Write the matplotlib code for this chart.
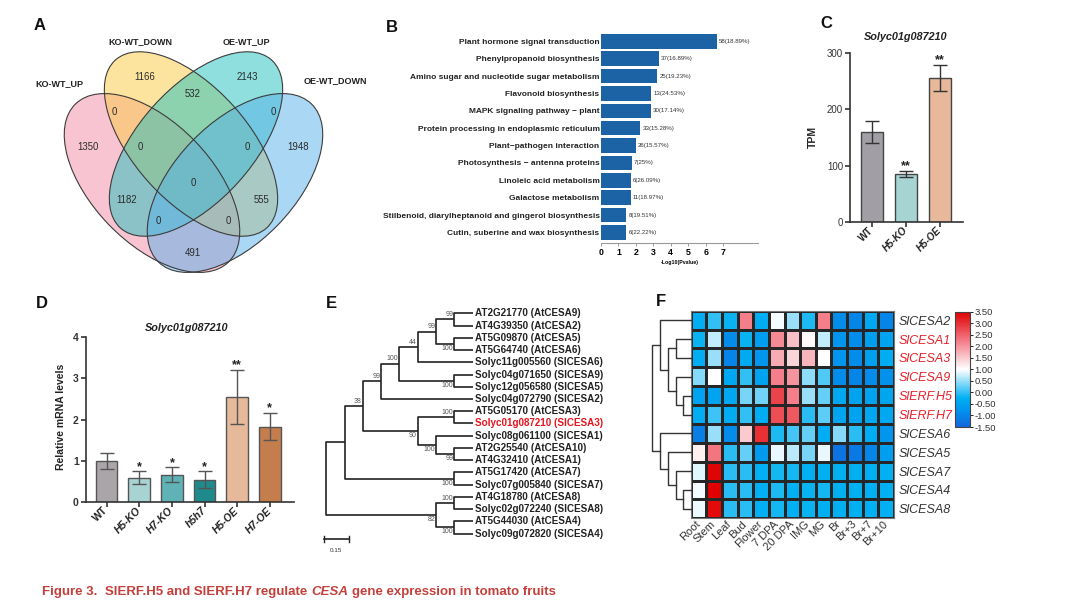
import numpy as np
import matplotlib
matplotlib.use("Agg")
import matplotlib.pyplot as plt
import matplotlib.transforms as mtransforms
from matplotlib.patches import Ellipse
from matplotlib.colors import LinearSegmentedColormap

plt.rcParams["font.family"] = ["Liberation Sans", "DejaVu Sans"]

W, H = 1080, 606

# A - venn
VENN_SETS = ["KO-WT_UP", "KO-WT_DOWN", "OE-WT_UP", "OE-WT_DOWN"]
VENN_REGIONS = ["1000", "0100", "0010", "0001", "1100", "0110", "0011",
                "1010", "0101", "1001", "1110", "0111", "1011", "1101", "1111"]
VENN_COUNTS = [1350, 1166, 2143, 1948, 0, 532, 0, 1182, 555, 491, 0, 0, 0, 0, 0]

# B - KEGG
KEGG_TERMS = [
    "Plant hormone signal transduction",
    "Phenylpropanoid biosynthesis",
    "Amino sugar and nucleotide sugar metabolism",
    "Flavonoid biosynthesis",
    "MAPK signaling pathway \u2212 plant",
    "Protein processing in endoplasmic reticulum",
    "Plant\u2212pathogen interaction",
    "Photosynthesis \u2212 antenna proteins",
    "Linoleic acid metabolism",
    "Galactose metabolism",
    "Stilbenoid, diarylheptanoid and gingerol biosynthesis",
    "Cutin, suberine and wax biosynthesis",
]
KEGG_LOG_P = [6.63, 3.31, 3.22, 2.87, 2.87, 2.26, 1.99, 1.78, 1.70, 1.70, 1.46, 1.46]
KEGG_HITS = ["58(18.89%)", "37(16.89%)", "25(19.23%)", "13(24.53%)", "30(17.14%)",
             "33(15.28%)", "26(15.57%)", "7(25%)", "6(26.09%)", "11(18.97%)",
             "8(19.51%)", "6(22.22%)"]

# C - TPM
TPM_GROUPS = ["WT", "H5-KO", "H5-OE"]
TPM_MEAN = [160, 85, 256]
TPM_ERR = [19, 5, 23]
TPM_SIG = ["", "**", "**"]

# D - qPCR
QPCR_GROUPS = ["WT", "H5-KO", "H7-KO", "h5h7", "H5-OE", "H7-OE"]
QPCR_MEAN = [1.0, 0.59, 0.66, 0.54, 2.55, 1.83]
QPCR_ERR = [0.20, 0.16, 0.18, 0.20, 0.65, 0.33]
QPCR_SIG = ["", "*", "*", "*", "**", "*"]

# E - phylogeny
TREE_LEAVES = [
    "AT2G21770 (AtCESA9)", "AT4G39350 (AtCESA2)", "AT5G09870 (AtCESA5)",
    "AT5G64740 (AtCESA6)", "Solyc11g005560 (SlCESA6)", "Solyc04g071650 (SlCESA9)",
    "Solyc12g056580 (SlCESA5)", "Solyc04g072790 (SlCESA2)", "AT5G05170 (AtCESA3)",
    "Solyc01g087210 (SlCESA3)", "Solyc08g061100 (SlCESA1)", "AT2G25540 (AtCESA10)",
    "AT4G32410 (AtCESA1)", "AT5G17420 (AtCESA7)", "Solyc07g005840 (SlCESA7)",
    "AT4G18780 (AtCESA8)", "Solyc02g072240 (SlCESA8)", "AT5G44030 (AtCESA4)",
    "Solyc09g072820 (SlCESA4)",
]
TREE_HIGHLIGHT = "Solyc01g087210 (SlCESA3)"
# (left, right, bootstrap, label side); ints are leaf indices
TREE_TOPOLOGY = (
    (
        (
            (
                (
                    (((0, 1, 99, "up"), (2, 3, 100, "down"), 99, "up"), 4, 44, "up"),
                    (5, 6, 100, "down"), 100, "up"),
                7, 99, "up"),
            ((8, 9, 100, "up"), (10, (11, 12, 99, "down"), 100, "down"), 90, "down"),
            38, "up"),
        (13, 14, 100, "down"), None, None),
    ((15, 16, 100, "up"), (17, 18, 100, "down"), 82, "down"),
    None, None)

# F - heatmap
TISSUES = ["Root", "Stem", "Leaf", "Bud", "Flower", "7 DPA", "20 DPA", "IMG", "MG",
           "Br", "Br+3", "Br+7", "Br+10"]
HEAT_GENES = ["SlCESA2", "SlCESA1", "SlCESA3", "SlCESA9", "SlERF.H5", "SlERF.H7",
              "SlCESA6", "SlCESA5", "SlCESA7", "SlCESA4", "SlCESA8"]
HEAT_RED_GENES = ["SlCESA1", "SlCESA3", "SlCESA9", "SlERF.H5", "SlERF.H7"]
HEAT_VALUES = [
    [-0.30, 0.00, -0.20, 2.20, -0.30, 0.95, 0.50, -0.10, 2.20, -0.90, -1.00, -0.40, -1.00],
    [-0.20, 0.70, -0.90, -0.20, -0.60, 2.10, 1.60, 1.05, 0.70, -0.75, -0.90, -0.60, -0.50],
    [-0.30, 0.50, -1.00, -0.35, -0.75, 1.80, 1.40, 1.70, 1.00, -0.75, -0.90, -0.55, -0.30],
    [0.40, 1.00, -0.40, 0.00, -0.50, 2.20, 2.00, 0.45, 0.15, -0.90, -1.00, -0.90, -0.80],
    [-0.50, -0.50, -0.40, 0.35, 0.30, 2.80, 2.20, 0.50, 0.25, -0.40, -0.50, -0.50, -0.45],
    [-0.30, 0.05, -0.30, 0.00, -0.30, 2.70, 2.60, -0.05, 0.20, -0.45, -0.50, -0.40, -0.40],
    [-1.10, 0.50, -0.90, 1.50, 3.00, -0.10, 0.10, 0.25, -0.30, 0.40, -0.05, -0.30, -0.75],
    [1.15, 2.30, -0.05, 0.25, -0.65, 0.90, 0.65, 0.35, 0.90, -1.30, -1.20, -1.00, -0.60],
    [0.85, 3.45, -0.05, -0.05, -0.25, -0.15, -0.15, -0.25, -0.25, -0.25, -0.25, -0.25, -0.25],
    [0.95, 3.50, -0.05, -0.05, -0.25, -0.10, -0.25, -0.20, -0.15, -0.25, -0.25, -0.25, -0.25],
    [0.92, 3.40, -0.05, -0.05, -0.25, -0.15, -0.25, -0.20, -0.25, -0.25, -0.25, -0.25, -0.25],
]
# (left, right, merge height); ints are heatmap rows
HEAT_DENDRO = ((0, ((1, 2, 1.5), (3, (4, 5, 0.8), 1.5), 2.3), 3.1),
               (6, (7, (8, (9, 10, 0.8), 1.5), 2.3), 3.1), 3.9)


def px_rect(x0, y0, x1, y1):
    return [x0 / W, 1 - y1 / H, (x1 - x0) / W, (y1 - y0) / H]


def ftext(fig, x, y, s, **kw):
    return fig.text(x / W, 1 - y / H, s, **kw)


def panel_venn(fig):
    ax = fig.add_axes(px_rect(0, 0, 380, 290))
    ax.set_xlim(0, 380)
    ax.set_ylim(290, 0)
    ax.axis("off")

    shapes = [(152, 183, 220, 120, 46), (191, 144, 226, 114, 48),
              (196, 144, 226, 114, 132), (235, 183, 220, 120, 134)]
    colors = ["#f38ba7", "#fbcb41", "#1fc1bf", "#57b1e9"]
    for (cx, cy, w, h, ang), col in zip(shapes, colors):
        ax.add_patch(Ellipse((cx, cy), w, h, angle=ang, facecolor=col, alpha=0.5,
                             edgecolor="none"))
    for cx, cy, w, h, ang in shapes:
        ax.add_patch(Ellipse((cx, cy), w, h, angle=ang, fill=False,
                             edgecolor="#3c3c3c", lw=0.8))

    spots = {"1000": (88, 147), "0100": (145, 77), "0010": (247, 77), "0001": (298, 147),
             "1100": (114, 112), "0110": (193, 94), "0011": (273, 112),
             "1010": (127, 200), "0101": (262, 200), "1001": (193, 253),
             "1110": (140, 147), "0111": (247, 147), "1011": (158, 221),
             "1101": (228, 221), "1111": (193, 183)}
    for reg, n in zip(VENN_REGIONS, VENN_COUNTS):
        x, y = spots[reg]
        ax.text(x, y, str(n), ha="center", va="center", fontsize=6.9, color="#2a2a2a")

    label_pos = [(59, 84), (140, 42), (246, 42), (335, 81)]
    for name, (x, y) in zip(VENN_SETS, label_pos):
        ax.text(x, y, name, ha="center", va="center", fontsize=6.5,
                fontweight="bold", color="#222")


def panel_kegg(fig):
    ax = fig.add_axes(px_rect(601, 30.6, 758, 243))
    y = np.arange(len(KEGG_TERMS))
    ax.barh(y, KEGG_LOG_P, height=0.84, color="#1b63a5")
    ax.set_ylim(len(KEGG_TERMS) - 0.39, -0.62)
    ax.set_xlim(0, 9)
    ax.set_yticks(y)
    ax.set_yticklabels(KEGG_TERMS, fontsize=6, fontweight="bold", color="#222")
    ax.tick_params(axis="y", length=0, pad=1)
    ax.set_xticks(range(8))
    ax.set_xticklabels([str(i) for i in range(8)], fontsize=6.3, fontweight="bold")
    ax.tick_params(axis="x", length=2, width=0.6, pad=1.5, color="#888")
    for s in ["top", "right", "left"]:
        ax.spines[s].set_visible(False)
    ax.spines["bottom"].set_color("#999")
    ax.spines["bottom"].set_linewidth(0.8)
    for i, (v, s) in enumerate(zip(KEGG_LOG_P, KEGG_HITS)):
        ax.text(v + 0.12, i, s, fontsize=4.4, va="center", color="#333")
    ax.set_xlabel("-Log10(Pvalue)", fontsize=3.8, fontweight="bold", labelpad=2)


def bar_panel(fig, box, xlim, ylim, yticks, groups, means, errs, sig, colors,
              edge, ecolor, star_pad, tick_fs, bold_ticks):
    ax = fig.add_axes(px_rect(*box))
    x = np.arange(len(groups))
    ax.bar(x, means, width=0.66, color=colors, edgecolor=edge, linewidth=1.0, zorder=2)
    ax.errorbar(x, means, yerr=errs, fmt="none", ecolor=ecolor, elinewidth=1.0,
                capsize=5.2, capthick=1.0, zorder=3)
    for i, (m, e, s) in enumerate(zip(means, errs, sig)):
        if s:
            ax.annotate(s, (i, m + e), xytext=(0, star_pad), textcoords="offset points",
                        ha="center", va="baseline", fontsize=9, fontweight="bold",
                        color="#222", annotation_clip=False)
    ax.set_xlim(*xlim)
    ax.set_ylim(*ylim)
    ax.set_yticks(yticks)
    ax.set_yticklabels([str(t) for t in yticks], fontsize=tick_fs,
                       fontweight="bold" if bold_ticks else "normal", color="#333")
    ax.set_xticks(x)
    ax.set_xticklabels(groups, rotation=45, ha="right", va="center",
                       rotation_mode="anchor", fontsize=tick_fs, fontweight="bold",
                       color="#222")
    shift = mtransforms.ScaledTranslation(3 / 100, -3 / 100, fig.dpi_scale_trans)
    for lab in ax.get_xticklabels():
        if lab.get_text() != "WT":
            lab.set_fontstyle("italic")
        lab.set_transform(lab.get_transform() + shift)
    for s in ["top", "right"]:
        ax.spines[s].set_visible(False)
    for s in ["left", "bottom"]:
        ax.spines[s].set_linewidth(1.2)
        ax.spines[s].set_color("#333")
    ax.tick_params(length=3.5, width=1.2, color="#333", pad=1.5)
    return ax


def layout_tree(ax, node):
    if isinstance(node, int):
        return float(node), 0
    left, right, support, side = node
    yl, hl = layout_tree(ax, left)
    yr, hr = layout_tree(ax, right)
    h = max(hl, hr) + 1
    ax.plot([-hl, -h, -h, -hr], [yl, yl, yr, yr], color="#222", lw=1.2,
            solid_capstyle="butt", clip_on=False)
    y = (yl + yr) / 2
    if support is not None:
        if side == "up":
            ax.text(-h - 0.05, y - 0.12, str(support), ha="right", va="bottom",
                    fontsize=5, color="#555")
        else:
            ax.text(-h - 0.05, y + 0.08, str(support), ha="right", va="top",
                    fontsize=5, color="#555")
    return y, h


def panel_tree(fig):
    ax = fig.add_axes(px_rect(320, 305, 480, 545))
    ax.set_xlim(-8.34, 0.40)
    ax.set_ylim(18.93, -0.68)
    ax.axis("off")
    layout_tree(ax, TREE_TOPOLOGY)
    for i, name in enumerate(TREE_LEAVES):
        col = "#e8141e" if name == TREE_HIGHLIGHT else "#222"
        ax.text(0.15, i, name, va="center", ha="left", fontsize=7.1,
                fontweight="bold", color=col, clip_on=False)
    ax.plot([-8.13, -6.76], [18.44, 18.44], color="#222", lw=1.2, clip_on=False)
    for xb in [-8.13, -6.76]:
        ax.plot([xb, xb], [18.2, 18.68], color="#222", lw=1.0, clip_on=False)
    ax.text(-7.45, 19.15, "0.15", ha="center", va="top", fontsize=4.5, color="#333",
            clip_on=False)


def draw_dendro(ax, node):
    if isinstance(node, int):
        return node + 0.5, 0.0
    left, right, h = node
    yl, hl = draw_dendro(ax, left)
    yr, hr = draw_dendro(ax, right)
    ax.plot([hl, h, h, hr], [yl, yl, yr, yr], color="#333", lw=1.0, clip_on=False)
    return (yl + yr) / 2, h


def panel_heatmap(fig):
    cmap = LinearSegmentedColormap.from_list("cesa", [
        (0.0, "#1266dc"), (0.15, "#0096ee"), (0.25, "#00b0f2"),
        (0.5, "#ffffff"), (0.75, "#f47a86"), (1.0, "#e00000")])
    vals = np.array(HEAT_VALUES)
    ax = fig.add_axes(px_rect(690.7, 310.7, 894, 518.3))
    mesh = ax.pcolormesh(np.arange(len(TISSUES) + 1), np.arange(len(HEAT_GENES) + 1),
                         vals, cmap=cmap, vmin=-1.5, vmax=3.5,
                         edgecolors="#262626", linewidth=0.8)
    ax.set_xlim(0, len(TISSUES))
    ax.set_ylim(len(HEAT_GENES), 0)
    ax.yaxis.tick_right()
    ax.set_yticks(np.arange(len(HEAT_GENES)) + 0.5)
    ax.set_yticklabels(HEAT_GENES, fontsize=9, fontstyle="italic", color="#333")
    for lab in ax.get_yticklabels():
        if lab.get_text() in HEAT_RED_GENES:
            lab.set_color("#e6202a")
    ax.set_xticks(np.arange(len(TISSUES)) + 0.5)
    ax.set_xticklabels(TISSUES, rotation=45, ha="right", va="center",
                       rotation_mode="anchor", fontsize=8, color="#333")
    shift = mtransforms.ScaledTranslation(3 / 100, -2 / 100, fig.dpi_scale_trans)
    for lab in ax.get_xticklabels():
        lab.set_transform(lab.get_transform() + shift)
    ax.tick_params(length=0, pad=3)
    for s in ax.spines.values():
        s.set_color("#777")
        s.set_linewidth(0.8)

    dax = fig.add_axes(px_rect(645, 310.7, 690.7, 518.3))
    dax.set_xlim(4.57, 0)
    dax.set_ylim(len(HEAT_GENES), 0)
    dax.axis("off")
    draw_dendro(dax, HEAT_DENDRO)

    cax = fig.add_axes(px_rect(955, 311.7, 970, 427))
    cb = fig.colorbar(mesh, cax=cax, ticks=np.arange(-1.5, 3.51, 0.5))
    cb.ax.set_yticklabels([f"{t:.2f}" for t in np.arange(-1.5, 3.51, 0.5)],
                          fontsize=6.8, color="#333")
    cb.ax.tick_params(length=2, width=0.6, pad=1)
    cb.outline.set_linewidth(0.8)
    cb.outline.set_edgecolor("#444")


def caption(fig):
    renderer = fig.canvas.get_renderer()
    runs = [("Figure 3.", "normal"), ("SlERF.H5 and SlERF.H7 regulate", "normal"),
            ("CESA", "italic"), ("gene expression in tomato fruits", "normal")]
    gaps = [8, 3.5, 3.5, 0]
    x = 42
    for (s, style), gap in zip(runs, gaps):
        t = ftext(fig, x, 592, s, fontsize=9.5, fontweight="bold", fontstyle=style,
                  color="#c4403c", va="center", ha="left")
        x += t.get_window_extent(renderer).width + gap


def main():
    fig = plt.figure(figsize=(W / 100, H / 100), dpi=100)

    panel_venn(fig)
    panel_kegg(fig)

    bar_panel(fig, (850, 53, 963, 222), (-0.65, 2.68), (0, 300), [0, 100, 200, 300],
              TPM_GROUPS, TPM_MEAN, TPM_ERR, TPM_SIG,
              ["#a19fa5", "#a6d4d2", "#e7b89a"], "#444", "#333", 1.5, 7, False)
    ftext(fig, 906, 37, "Solyc01g087210", fontsize=7.8, fontweight="bold",
          fontstyle="italic", ha="center", va="center", color="#222")
    ftext(fig, 813, 137, "TPM", fontsize=7.5, fontweight="bold", rotation=90,
          ha="center", va="center", color="#222")

    bar_panel(fig, (85.7, 337, 294, 502), (-0.64, 5.74), (0, 4), [0, 1, 2, 3, 4],
              QPCR_GROUPS, QPCR_MEAN, QPCR_ERR, QPCR_SIG,
              ["#aaa5a9", "#a8d3d3", "#5fb3b6", "#1f8a8c", "#e6b99b", "#c47e4e"],
              "#555", "#555", 1.0, 7.5, True)
    ftext(fig, 187, 328, "Solyc01g087210", fontsize=7.8, fontweight="bold",
          fontstyle="italic", ha="center", va="center", color="#222")
    ftext(fig, 61, 417, "Relative mRNA levels", fontsize=7.5, fontweight="bold",
          rotation=90, ha="center", va="center", color="#222")

    panel_tree(fig)
    panel_heatmap(fig)

    for letter, (x, y) in zip("ABCDEF", [(40, 26), (392, 27), (826, 24), (42, 303),
                                         (331, 304), (661, 302)]):
        ftext(fig, x, y, letter, fontsize=12, fontweight="bold", ha="center",
              va="center", color="#111")

    caption(fig)
    fig.savefig("out.png", dpi=100, facecolor="white")


if __name__ == "__main__":
    main()
